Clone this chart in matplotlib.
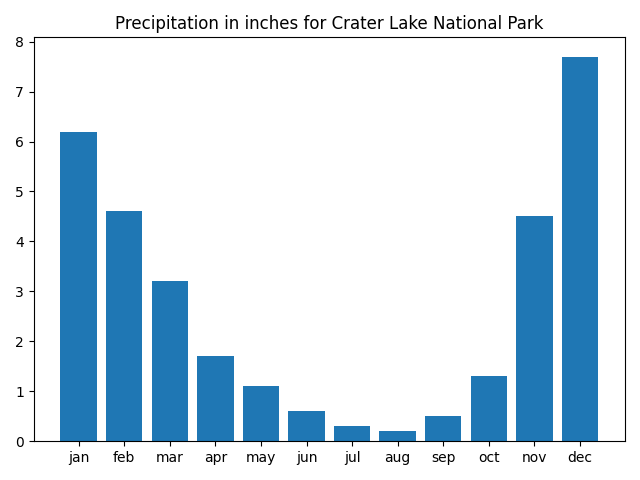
import matplotlib
matplotlib.use("Agg")
import matplotlib.pyplot as plt

months = ["jan", "feb", "mar", "apr", "may", "jun",
          "jul", "aug", "sep", "oct", "nov", "dec"]
precip = [6.2, 4.6, 3.2, 1.7, 1.1, 0.6, 0.3, 0.2, 0.5, 1.3, 4.5, 7.7]

fig, ax = plt.subplots(figsize=(6.4, 4.8), dpi=100)
ax.bar(months, precip)
ax.set_title("Precipitation in inches for Crater Lake National Park")
fig.tight_layout()
fig.savefig("out.png")
